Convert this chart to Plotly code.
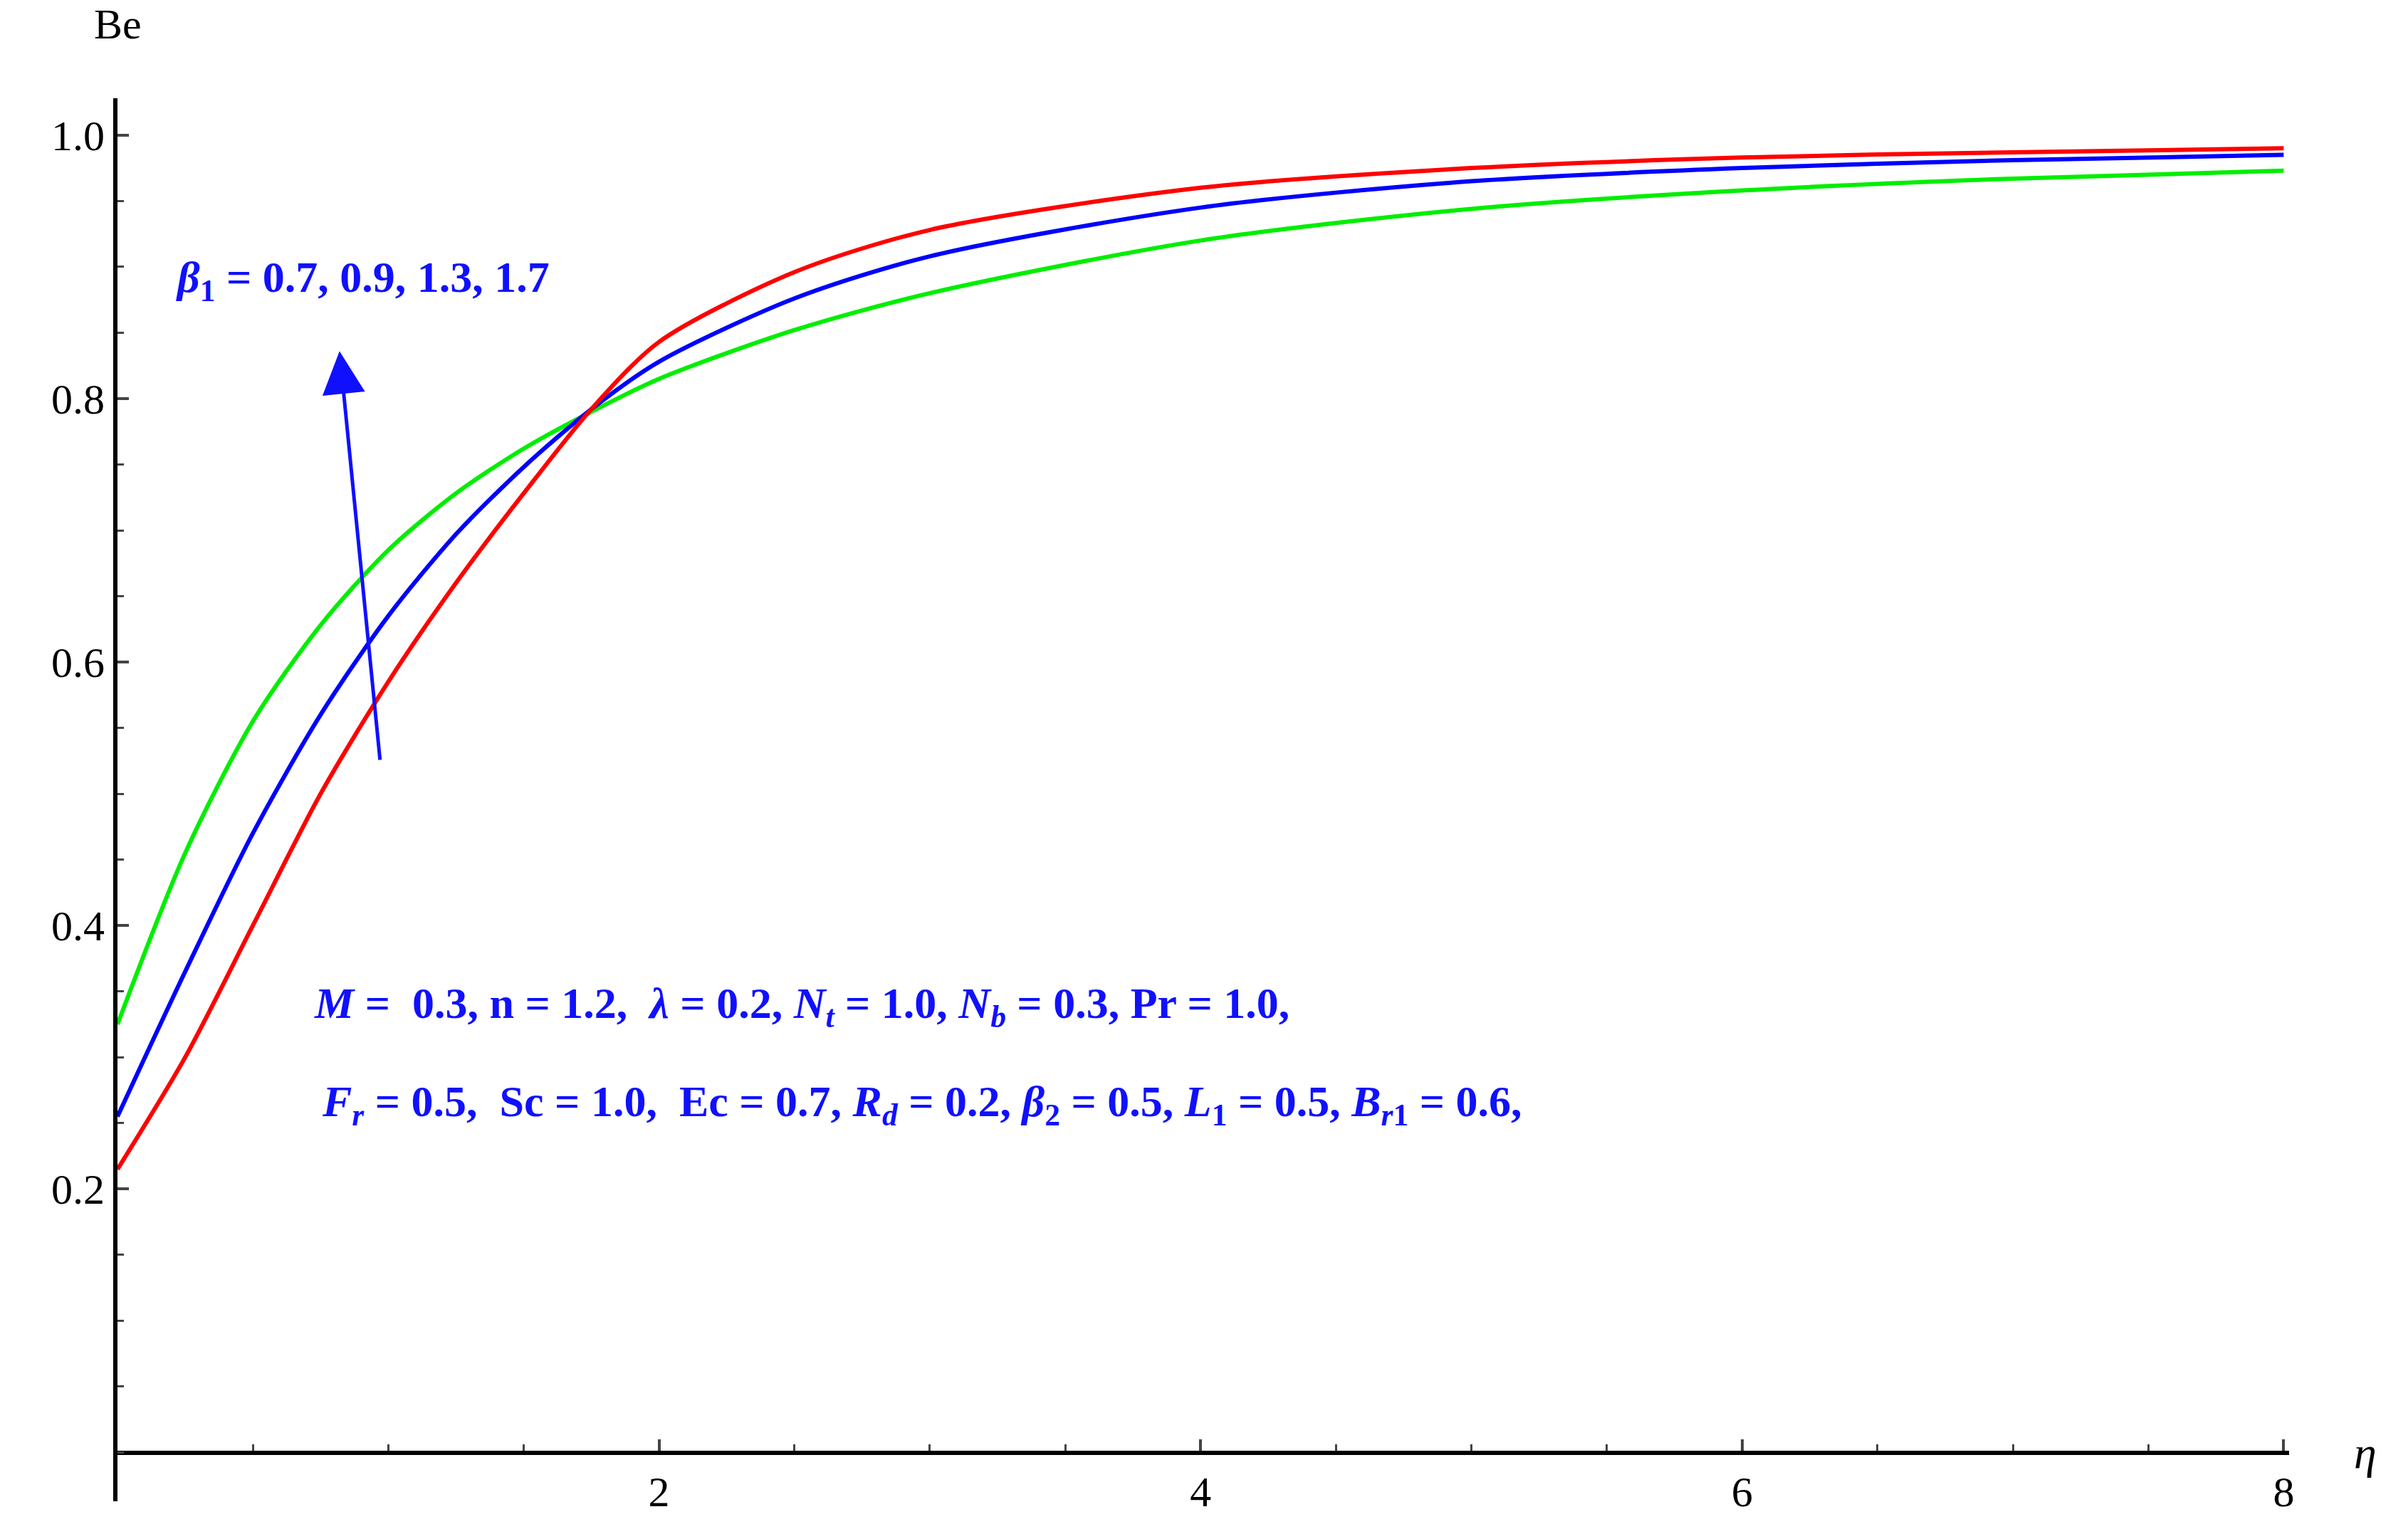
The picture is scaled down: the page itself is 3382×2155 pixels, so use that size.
import plotly.graph_objects as go

eta = [0, 0.25, 0.5, 0.75, 1.0, 1.25, 1.5, 1.75, 2.0, 2.5, 3.0, 4.0, 5.0, 6.0, 7.0, 8.0]
be_green = [0.325, 0.455, 0.555, 0.628, 0.685, 0.728, 0.762, 0.79, 0.815, 0.852, 0.88, 0.92, 0.944, 0.958, 0.967, 0.973]
be_blue = [0.255, 0.365, 0.47, 0.56, 0.635, 0.697, 0.748, 0.792, 0.828, 0.876, 0.908, 0.945, 0.965, 0.975, 0.981, 0.985]
be_red = [0.215, 0.30, 0.40, 0.50, 0.585, 0.66, 0.728, 0.792, 0.843, 0.896, 0.928, 0.96, 0.975, 0.983, 0.987, 0.99]

fig = go.Figure()
for ys, c in [(be_green, "#00ee00"), (be_blue, "#0000ff"), (be_red, "#ff0000")]:
    fig.add_trace(go.Scatter(x=eta, y=ys, mode="lines", line=dict(color=c, width=6, shape="spline", smoothing=0.8), showlegend=False))

F = "Times New Roman, Liberation Serif, serif"
blue = "#1010ff"
ymin, ymax = -0.037, 1.028
xpos = (0 - ymin) / (ymax - ymin)
fig.update_layout(
    width=3382, height=2155, plot_bgcolor="white", paper_bgcolor="white",
    margin=dict(l=157, r=175, t=130, b=54),
    font=dict(family=F, size=60, color="black"),
    xaxis=dict(range=[0, 8.02], tickvals=[2, 4, 6, 8], ticks="inside", ticklen=16, tickwidth=4,
               minor=dict(dtick=0.5, ticklen=9, tickwidth=3, ticks="inside"),
               showgrid=False, zeroline=False, showline=True, linewidth=6, linecolor="black",
               anchor="free", position=xpos),
    yaxis=dict(range=[ymin, ymax], tickvals=[0.2, 0.4, 0.6, 0.8, 1.0], ticktext=["0.2", "0.4", "0.6", "0.8", "1.0"],
               ticks="inside", ticklen=16, tickwidth=4,
               minor=dict(dtick=0.05, ticklen=9, tickwidth=3, ticks="inside"),
               showgrid=False, zeroline=False, showline=True, linewidth=6, linecolor="black"),
)

fig.add_annotation(x=0.82, y=0.836, ax=0.97, ay=0.525, xref="x", yref="y", axref="x", ayref="y",
                   showarrow=True, arrowhead=2, arrowsize=2.4, arrowwidth=5, arrowcolor=blue, text="")
fig.add_annotation(x=0.21, y=0.89, xref="x", yref="y", xanchor="left", showarrow=False,
                   text="<b><i>β</i><sub>1</sub> = 0.7, 0.9, 1.3, 1.7</b>", font=dict(size=62, color=blue, family=F))
fig.add_annotation(x=0.72, y=0.339, xref="x", yref="y", xanchor="left", showarrow=False,
                   text="<b><i>M</i> =  0.3, n = 1.2,  <i>λ</i> = 0.2, <i>N<sub>t</sub></i> = 1.0, <i>N<sub>b</sub></i> = 0.3, Pr = 1.0,</b>",
                   font=dict(size=62, color=blue, family=F))
fig.add_annotation(x=0.75, y=0.264, xref="x", yref="y", xanchor="left", showarrow=False,
                   text="<b><i>F<sub>r</sub></i> = 0.5,  Sc = 1.0,  Ec = 0.7, <i>R<sub>d</sub></i> = 0.2, <i>β</i><sub>2</sub> = 0.5, <i>L</i><sub>1</sub> = 0.5, <i>B<sub>r</sub></i><sub>1</sub> = 0.6,</b>",
                   font=dict(size=62, color=blue, family=F))
fig.add_annotation(x=0.0, y=1.035, xref="x", yref="paper", xanchor="center", yanchor="bottom", showarrow=False,
                   text="Be", font=dict(size=60, family=F))
fig.add_annotation(x=1.035, y=xpos, xref="paper", yref="paper", xanchor="center", yanchor="middle", showarrow=False,
                   text="<i>η</i>", font=dict(size=64, family=F))
fig.write_html("out.html")
